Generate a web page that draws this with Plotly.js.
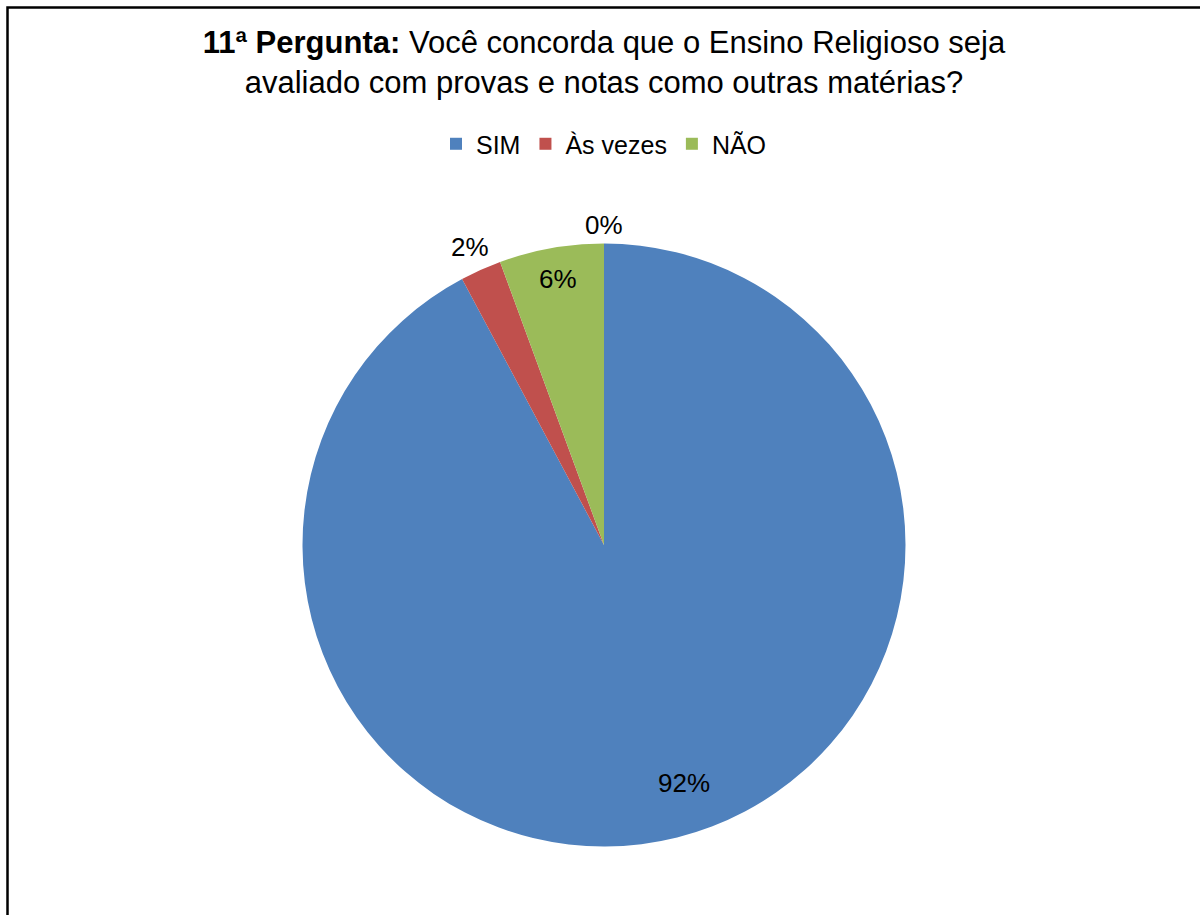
<!DOCTYPE html>
<html>
<head>
<meta charset="utf-8">
<script src="https://cdn.plot.ly/plotly-3.0.1.min.js"></script>
<style>html,body{margin:0;padding:0;background:#fff;}#chart{width:1200px;height:915px;}</style>
</head>
<body>
<div id="chart"></div>
<script>
// Data
const categories = ['SIM', 'Às vezes', 'NÃO'];
const percentValues = [92.2, 2.2, 5.6];
const sliceColors = ['#4F81BD', '#C0504D', '#9BBB59'];
// An unlabeled fourth category with a value of zero (shown only as "0%")
const emptyCategoryValue = 0;

const titleBold = '11ª Pergunta:';
const titleRest = 'Você concorda que o Ensino Religioso seja<br>avaliado com provas e notas como outras matérias?';

const FONT = 'Arial, "Liberation Sans", sans-serif';

// Label placement (styling only, in page pixels): SIM, Às vezes, NÃO, empty category
const labelPixelPos = [[684, 783], [470, 247], [558, 279], [604, 225]];

const total = percentValues.reduce((a, b) => a + b, 0) + emptyCategoryValue;
const labelValues = percentValues.concat([emptyCategoryValue]);

const trace = {
  type: 'pie',
  labels: categories,
  values: percentValues,
  marker: { colors: sliceColors, line: { width: 0 } },
  sort: false,
  direction: 'clockwise',
  rotation: 0,
  textinfo: 'none',
  domain: { x: [0.1, 0.90667], y: [0.07486, 0.73388] },
  hoverinfo: 'label+percent'
};

const annotations = labelValues.map((v, i) => ({
  text: Math.round(v / total * 100) + '%',
  xref: 'paper', yref: 'paper',
  x: labelPixelPos[i][0] / 1200, y: 1 - labelPixelPos[i][1] / 915,
  xanchor: 'center', yanchor: 'middle',
  showarrow: false,
  font: { family: FONT, size: 26, color: '#000' }
}));

const layout = {
  width: 1200,
  height: 915,
  margin: { l: 0, r: 0, t: 0, b: 0 },
  paper_bgcolor: '#ffffff',
  font: { family: FONT, color: '#000' },
  title: {
    text: '<b>' + titleBold + '</b> ' + titleRest,
    font: { family: FONT, size: 31, color: '#000' },
    x: 0.50333, xanchor: 'center', xref: 'paper',
    y: 0.942, yanchor: 'top', yref: 'container'
  },
  showlegend: true,
  legend: {
    orientation: 'h',
    x: 0.50333, xanchor: 'center',
    y: 0.8426, yanchor: 'middle',
    font: { family: FONT, size: 25, color: '#000' },
    bgcolor: 'rgba(0,0,0,0)'
  },
  annotations: annotations,
  shapes: [{
    type: 'rect', xref: 'paper', yref: 'paper',
    x0: 7.5 / 1200, x1: 1.05,
    y0: -0.05, y1: 1 - 7.5 / 915,
    line: { color: '#000', width: 2.5 },
    fillcolor: 'rgba(0,0,0,0)'
  }]
};

Plotly.newPlot('chart', [trace], layout, { displayModeBar: false, responsive: false });
</script>
</body>
</html>
